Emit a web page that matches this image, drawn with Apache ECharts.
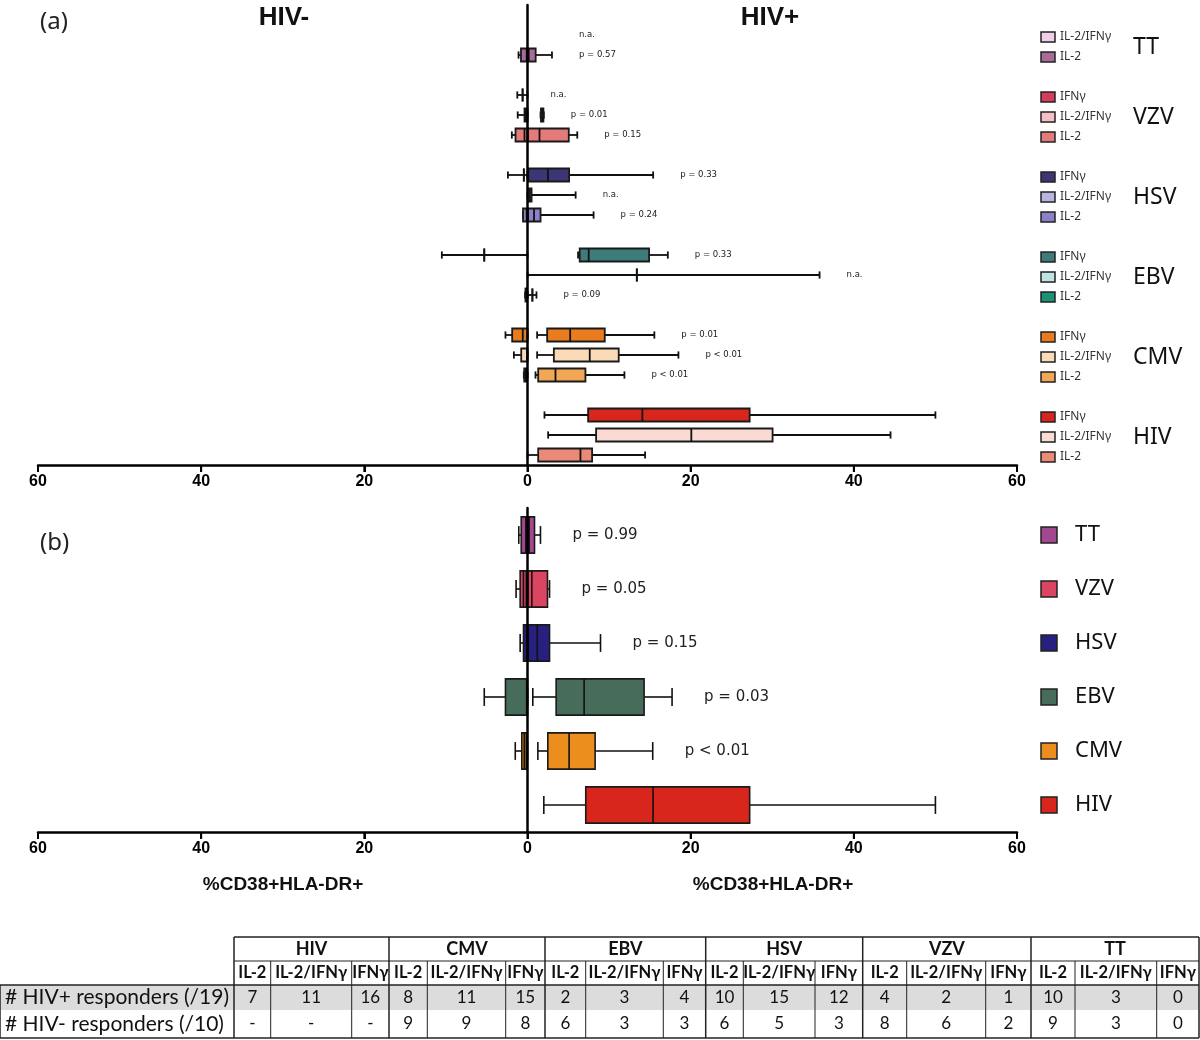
<!DOCTYPE html>
<html><head><meta charset="utf-8">
<script src="https://cdn.jsdelivr.net/npm/echarts@6/dist/echarts.min.js"></script>
<style>html,body{margin:0;padding:0;background:#fff}#c{width:1200px;height:1040px}</style>
</head><body><div id="c"></div>
<script>
// ---------- DATA ----------
const groups = ['TT', 'VZV', 'HSV', 'EBV', 'CMV', 'HIV'];
const cytokines = ['IFNγ', 'IL-2/IFNγ', 'IL-2'];
const xTicks = [-60, -40, -20, 0, 20, 40, 60];

// Panel (a): [min, q1, median, q3, max] %CD38+HLA-DR+ ; order IFNγ, IL-2/IFNγ, IL-2 ; null = no responders
const TT_pos  = [null, null, [0, 0, 0.15, 1.0, 3.0]];
const TT_neg  = [null, null, [0, 0, 0.1, 0.8, 1.1]];
const VZV_pos = [null, [1.6, 1.65, 1.8, 1.95, 2.0], [0, 0, 1.47, 5.06, 6.1]];
const VZV_neg = [[0, 0.6, 0.6, 0.6, 1.25], [0, 0, 0.2, 0.37, 1.2], [0, 0, 0.37, 1.47, 1.92]];
const HSV_pos = [[0, 0.1, 2.5, 5.1, 15.4], [0, 0.05, 0.3, 0.5, 5.9], [0, 0.05, 0.8, 1.6, 8.1]];
const HSV_neg = [[0, 0.45, 0.45, 0.45, 2.4], null, [0, 0, 0.1, 0.55, 0.55]];
const EBV_pos = [[6.2, 6.4, 7.5, 14.9, 17.2], [0, 13.4, 13.4, 13.4, 35.8], [0, 0.6, 0.6, 0.6, 1.1]];
const EBV_neg = [[0, 5.3, 5.3, 5.3, 10.5], null, [0, 0.1, 0.15, 0.25, 0.3]];
const CMV_pos = [[1.18, 2.41, 5.23, 9.47, 15.55], [1.18, 3.23, 7.63, 11.18, 18.5], [0.98, 1.31, 3.43, 7.1, 11.88]];
const CMV_neg = [[0, 0, 0.58, 1.88, 2.7], [0, 0, 0.05, 0.77, 1.67], [0, 0.05, 0.2, 0.4, 0.45]];
const HIV_pos = [[2.08, 7.43, 14.08, 27.23, 50.0], [2.53, 8.41, 20.08, 30.04, 44.5], [0, 1.31, 6.49, 7.92, 14.41]];
const HIV_neg = [null, null, null];

const TT_p  = [null, 'n.a.', 'p = 0.57'];
const VZV_p = ['n.a.', 'p = 0.01', 'p = 0.15'];
const HSV_p = ['p = 0.33', 'n.a.', 'p = 0.24'];
const EBV_p = ['p = 0.33', 'n.a.', 'p = 0.09'];
const CMV_p = ['p = 0.01', 'p < 0.01', 'p < 0.01'];
const HIV_p = [null, null, null];

const TT_col  = ['#e9b8dc', '#efd0e8', '#a86b9a'];
const VZV_col = ['#d83c5c', '#f4c0c6', '#e37b7b'];
const HSV_col = ['#3c3677', '#b8b4e0', '#8a82c4'];
const EBV_col = ['#3e7b7b', '#c0e4e4', '#1b9273'];
const CMV_col = ['#e87c1e', '#fbdab8', '#f2a757'];
const HIV_col = ['#d8261d', '#fadbd3', '#ec8a78'];

// Panel (b): all cytokines, per antigen
const B_pos = [[0, 0, 0.2, 0.86, 1.59], [0, 0, 0.53, 2.45, 2.7], [0, 0.05, 1.2, 2.7, 8.95],
               [0.65, 3.51, 6.94, 14.29, 17.72], [1.27, 2.49, 5.1, 8.29, 15.35], [2.0, 7.14, 15.39, 27.23, 50.0]];
const B_neg = [[0, 0, 0.2, 0.77, 1.07], [0, 0.15, 0.5, 0.9, 1.4], [0, 0, 0.1, 0.49, 0.9],
               [0, 0, 0.1, 2.7, 5.3], [0, 0.15, 0.4, 0.7, 1.5], null];
const B_p = ['p = 0.99', 'p = 0.05', 'p = 0.15', 'p = 0.03', 'p < 0.01', null];
const B_col = ['#a3478f', '#dc4561', '#28207e', '#476d5a', '#ec8e1e', '#d8261d'];

// Table
const tableGroups = ['HIV', 'CMV', 'EBV', 'HSV', 'VZV', 'TT'];
const tableSub = ['IL-2', 'IL-2/IFNγ', 'IFNγ'];
const respPos = [7, 11, 16, 8, 11, 15, 2, 3, 4, 10, 15, 12, 4, 2, 1, 10, 3, 0];
const respNeg = ['-', '-', '-', 9, 9, 8, 6, 3, 3, 6, 5, 3, 8, 6, 2, 9, 3, 0];
const rowLabels = ['# HIV+ responders (/19)', '# HIV- responders (/10)'];

// ---------- BUILD ----------
const posA = [TT_pos, VZV_pos, HSV_pos, EBV_pos, CMV_pos, HIV_pos];
const negA = [TT_neg, VZV_neg, HSV_neg, EBV_neg, CMV_neg, HIV_neg];
const pA = [TT_p, VZV_p, HSV_p, EBV_p, CMV_p, HIV_p];
const colA = [TT_col, VZV_col, HSV_col, EBV_col, CMV_col, HIV_col];

const rowsA = [];
groups.forEach((g, gi) => {
  cytokines.forEach(c => rowsA.push(g + '|' + c));
  if (gi < groups.length - 1) rowsA.push('gap' + gi);
});

const boxA = [], boxAcol = [], labA = [], labAtxt = [];
groups.forEach((g, gi) => {
  cytokines.forEach((c, ci) => {
    const r = gi * 4 + ci;
    const p = posA[gi][ci], n = negA[gi][ci];
    if (p) { boxA.push([r, ...p]); boxAcol.push(colA[gi][ci]); }
    if (n) { boxA.push([r, ...n.map(v => -v)]); boxAcol.push(colA[gi][ci]); }
    if (pA[gi][ci]) {
      let anchor, off = 27;
      if (p) anchor = p[4];
      else if (n) { anchor = 0; off = 23; }
      else { const nx = posA[gi][ci + 1]; anchor = nx ? nx[4] : 0; }
      labA.push([anchor, r, off]); labAtxt.push(pA[gi][ci]);
    }
  });
});

const boxB = [], boxBcol = [], labB = [], labBtxt = [];
groups.forEach((g, gi) => {
  if (B_pos[gi]) { boxB.push([gi, ...B_pos[gi]]); boxBcol.push(B_col[gi]); }
  if (B_neg[gi]) { boxB.push([gi, ...B_neg[gi].map(v => -v)]); boxBcol.push(B_col[gi]); }
  if (B_p[gi]) { labB.push([B_pos[gi][4], gi, 32]); labBtxt.push(B_p[gi]); }
});

function makeBox(colors, boxFrac, capFrac, lw) {
  return function (params, api) {
    const row = api.value(0);
    const px = [1, 2, 3, 4, 5].map(i => api.coord([api.value(i), row])[0]);
    const cy = api.coord([0, row])[1];
    const band = api.size([0, 1])[1];
    const bh = band * boxFrac, ch = band * capFrac;
    const ls = { stroke: '#111', lineWidth: lw };
    const x1 = Math.min(px[1], px[3]), x2 = Math.max(px[1], px[3]);
    return {
      type: 'group', children: [
        { type: 'line', shape: { x1: px[0], y1: cy, x2: px[1], y2: cy }, style: ls },
        { type: 'line', shape: { x1: px[3], y1: cy, x2: px[4], y2: cy }, style: ls },
        { type: 'line', shape: { x1: px[0], y1: cy - ch / 2, x2: px[0], y2: cy + ch / 2 }, style: ls },
        { type: 'line', shape: { x1: px[4], y1: cy - ch / 2, x2: px[4], y2: cy + ch / 2 }, style: ls },
        { type: 'rect', shape: { x: x1, y: cy - bh / 2, width: x2 - x1, height: bh },
          style: { fill: colors[params.dataIndex], stroke: '#1a1a1a', lineWidth: lw } },
        { type: 'line', shape: { x1: px[2], y1: cy - bh / 2, x2: px[2], y2: cy + bh / 2 }, style: ls }
      ]
    };
  };
}
function makeLabel(texts, fontSize) {
  return function (params, api) {
    const pt = api.coord([api.value(0), api.value(1)]);
    return { type: 'text', x: pt[0] + api.value(2), y: pt[1],
      style: { text: texts[params.dataIndex], fill: '#222', fontSize: fontSize,
        fontFamily: 'DejaVu Sans', textVerticalAlign: 'middle', verticalAlign: 'middle' } };
  };
}

function xAxisCfg(gi) {
  return {
    gridIndex: gi, type: 'value', min: xTicks[0], max: xTicks[xTicks.length - 1], interval: 20,
    axisLine: { show: true, onZero: false, lineStyle: { color: '#000', width: 2.5 } },
    axisTick: { show: true, inside: false, length: 7, lineStyle: { color: '#000', width: 2 } },
    axisLabel: { formatter: v => String(Math.abs(v)), fontWeight: 'bold', fontSize: 16, color: '#000',
      margin: 9, fontFamily: 'Liberation Sans', showMinLabel: true, showMaxLabel: true },
    splitLine: { show: false }
  };
}
function yAxisCfg(gi, data) {
  return {
    gridIndex: gi, type: 'category', inverse: true, data: data, z: 5,
    axisLine: { show: true, onZero: true, lineStyle: { color: '#000', width: 2.5 } },
    axisTick: { show: false }, axisLabel: { show: false }, splitLine: { show: false }
  };
}

const GA = { left: 38, width: 979, top: 5, height: 460 };
const GB = { left: 38, width: 979, top: 508, height: 324 };

// ---------- GRAPHIC ----------
const graphic = [];
function txt(x, y, s, size, opts) {
  graphic.push({ type: 'text', x: x, y: y, z: 10,
    style: Object.assign({ text: s, fontSize: size, fill: '#111', fontFamily: 'Liberation Sans',
      textVerticalAlign: 'middle', verticalAlign: 'middle' }, opts || {}) });
}
txt(40, 22, '(a)', 24, { fontFamily: 'Noto Sans', fill: '#222' });
txt(40, 543, '(b)', 24, { fontFamily: 'Noto Sans', fill: '#222' });
txt(284, 18, 'HIV-', 26, { fontWeight: 'bold', textAlign: 'center', align: 'center' });
txt(770, 18, 'HIV+', 26, { fontWeight: 'bold', textAlign: 'center', align: 'center' });
txt(283, 885, '%CD38+HLA-DR+', 19, { fontWeight: 'bold', textAlign: 'center', align: 'center' });
txt(773, 885, '%CD38+HLA-DR+', 19, { fontWeight: 'bold', textAlign: 'center', align: 'center' });

// legend (a)
const bandA = GA.height / rowsA.length;
groups.forEach((g, gi) => {
  const ys = [];
  cytokines.forEach((c, ci) => {
    if (!posA[gi][ci] && !negA[gi][ci] && !pA[gi][ci]) return;
    const y = GA.top + (gi * 4 + ci + 0.5) * bandA + 2;
    ys.push(y);
    graphic.push({ type: 'rect', shape: { x: 1041, y: y - 5, width: 14, height: 10 },
      style: { fill: colA[gi][ci], stroke: '#222', lineWidth: 1.5 } });
    txt(1060, y, c, 12, { fontFamily: 'Noto Sans', fill: '#333' });
  });
  const yc = (ys[0] + ys[ys.length - 1]) / 2;
  txt(1133, yc, g, 23, { fontFamily: 'Noto Sans', fill: '#111' });
});
// legend (b)
const bandB = GB.height / groups.length;
groups.forEach((g, gi) => {
  const y = GB.top + (gi + 0.5) * bandB;
  graphic.push({ type: 'rect', shape: { x: 1041, y: y - 8, width: 16, height: 16 },
    style: { fill: B_col[gi], stroke: '#222', lineWidth: 1.5 } });
  txt(1075, y, g, 22, { fontFamily: 'Noto Sans', fill: '#111' });
});

// table
const colX = [234, 270.7, 351.7, 389, 427.3, 505.7, 545, 585.7, 663.3, 705.7, 743.3, 815, 862.7, 906.7, 985.7, 1031, 1075, 1156.7, 1199];
const rowY = [937, 961, 985, 1010, 1038];
const TF = 'Lato';
graphic.push({ type: 'rect', shape: { x: 0, y: rowY[2], width: 1199, height: rowY[3] - rowY[2] }, style: { fill: '#dcdcdc' } });
function ln(x1, y1, x2, y2, w, c) {
  graphic.push({ type: 'line', shape: { x1, y1, x2, y2 }, style: { stroke: c || '#222', lineWidth: w || 1 } });
}
ln(colX[0], rowY[0], 1199, rowY[0], 1.5);
ln(colX[0], rowY[1], 1199, rowY[1], 1);
ln(0, rowY[2], 1199, rowY[2], 1.5);
ln(0, rowY[4], 1199, rowY[4], 1.5);
ln(0, rowY[2], 0, rowY[4], 1.5);
ln(1199, rowY[0], 1199, rowY[4], 1.5);
colX.forEach((x, i) => {
  if (i === colX.length - 1) return;
  const groupEdge = i % 3 === 0;
  ln(x, groupEdge ? rowY[0] : rowY[1], x, rowY[4], groupEdge ? 1.5 : 1);
});
tableGroups.forEach((g, gi) => {
  const xc = (colX[gi * 3] + colX[gi * 3 + 3]) / 2;
  txt(xc, (rowY[0] + rowY[1]) / 2, g, 18, { fontFamily: TF, fontWeight: 'bold', textAlign: 'center', align: 'center' });
  tableSub.forEach((s, si) => {
    const k = gi * 3 + si;
    const cx = (colX[k] + colX[k + 1]) / 2;
    txt(cx, (rowY[1] + rowY[2]) / 2, s, 16.5, { fontFamily: TF, fontWeight: 'bold', textAlign: 'center', align: 'center' });
    txt(cx, (rowY[2] + rowY[3]) / 2, String(respPos[k]), 17, { fontFamily: TF, textAlign: 'center', align: 'center' });
    txt(cx, (rowY[3] + rowY[4]) / 2, String(respNeg[k]), 17, { fontFamily: TF, textAlign: 'center', align: 'center' });
  });
});
txt(5, (rowY[2] + rowY[3]) / 2, rowLabels[0], 21, { fontFamily: TF });
txt(5, (rowY[3] + rowY[4]) / 2, rowLabels[1], 21, { fontFamily: TF });

// ---------- CHART ----------
const chart = echarts.init(document.getElementById('c'), null, { renderer: 'canvas' });
chart.setOption({
  backgroundColor: '#fff',
  animation: false,
  grid: [Object.assign({}, GA), Object.assign({}, GB)],
  xAxis: [xAxisCfg(0), xAxisCfg(1)],
  yAxis: [yAxisCfg(0, rowsA), yAxisCfg(1, groups)],
  series: [
    { type: 'custom', xAxisIndex: 0, yAxisIndex: 0, data: boxA, z: 2,
      encode: { x: [1, 2, 3, 4, 5], y: 0 }, renderItem: makeBox(boxAcol, 0.65, 0.36, 1.8) },
    { type: 'custom', xAxisIndex: 0, yAxisIndex: 0, data: labA, z: 3,
      encode: { x: 0, y: 1 }, renderItem: makeLabel(labAtxt, 8.5) },
    { type: 'custom', xAxisIndex: 1, yAxisIndex: 1, data: boxB, z: 2,
      encode: { x: [1, 2, 3, 4, 5], y: 0 }, renderItem: makeBox(boxBcol, 0.67, 0.33, 1.6) },
    { type: 'custom', xAxisIndex: 1, yAxisIndex: 1, data: labB, z: 3,
      encode: { x: 0, y: 1 }, renderItem: makeLabel(labBtxt, 15) }
  ],
  graphic: graphic
});

// tick marks below each horizontal axis, placed with the library's own scale
const tickGraphic = [];
[[0, GA], [1, GB]].forEach(([ai, G]) => {
  const yb = G.top + G.height;
  xTicks.forEach(v => {
    const x = chart.convertToPixel({ xAxisIndex: ai }, v);
    tickGraphic.push({ type: 'line', z: 20, shape: { x1: x, y1: yb, x2: x, y2: yb + 7 },
      style: { stroke: '#000', lineWidth: 2 } });
  });
});
chart.setOption({ graphic: graphic.concat(tickGraphic) });
</script></body></html>
